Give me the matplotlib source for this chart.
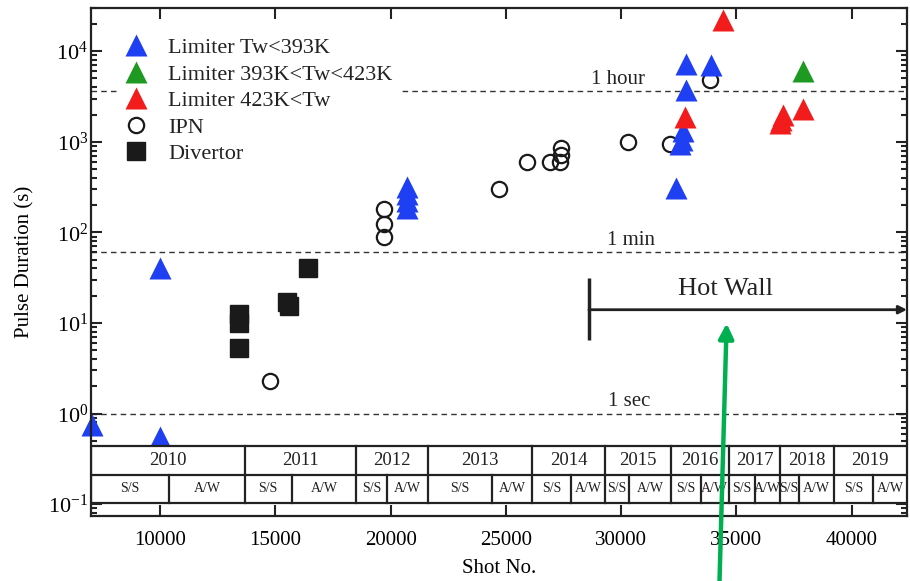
import matplotlib
matplotlib.use("Agg")
import matplotlib.pyplot as plt
from matplotlib.patches import Rectangle, FancyArrowPatch
from matplotlib.ticker import MultipleLocator, LogLocator, NullFormatter
import matplotlib.transforms as mtransforms

plt.rcParams['font.family'] = ['Liberation Serif', 'DejaVu Serif']
plt.rcParams['mathtext.fontset'] = 'custom'
plt.rcParams['mathtext.rm'] = 'Liberation Serif'
plt.rcParams['mathtext.it'] = 'Liberation Serif:italic'
plt.rcParams['text.color'] = '#222222'

# Limiter discharges, split by wall temperature
lim_cold_shot = [7050, 10000, 10000, 20700, 20700, 20700, 20700,
                 32400, 32550, 32650, 32700, 32800, 32800, 33900]
lim_cold_dur = [0.75, 40, 0.55, 320, 265, 220, 185,
                310, 950, 1050, 1300, 3700, 7200, 7000]

lim_mid_shot = [37900]
lim_mid_dur = [6100]

lim_hot_shot = [32750, 34400, 36900, 36950, 37000, 37900]
lim_hot_dur = [1900, 22000, 1600, 1750, 1950, 2300]

# Inner-pole-null and divertor discharges
ipn_shot = [14750, 19700, 19700, 19700, 24700, 25900, 26900, 27350, 27400,
            27400, 30300, 32100, 33850]
ipn_dur = [2.3, 90, 125, 180, 300, 600, 600, 600, 720, 850, 1000, 950, 4800]

div_shot = [13400, 13400, 13400, 15500, 15600, 16400]
div_dur = [12.5, 10, 5.3, 17, 15.5, 40]

# Campaign table: first shot of each year and of each A/W half
years = ['2010', '2011', '2012', '2013', '2014', '2015', '2016', '2017', '2018', '2019']
year_start = [7000, 13680, 18515, 21615, 26134, 29307, 32178, 34675, 36883, 39221]
aw_start = [10377, 15701, 19857, 24403, 27836, 30346, 33450, 35801, 37706, 40922]

ref_lines = [('1 hour', 3600, 29870), ('1 min', 60, 30420), ('1 sec', 1, 30350)]

xmin, xmax = 7000, 42400
ymin, ymax = 0.074, 30000

fig = plt.figure(figsize=(9.1, 5.81), dpi=100)
ax = fig.add_axes([0.1, 0.1119, 0.8967, 0.8744])
ax.set_yscale('log')
ax.set_xlim(xmin, xmax)
ax.set_ylim(ymin, ymax)

blue, green, red = '#1f3ff2', '#1e9a22', '#f21c1c'
tri = dict(marker='^', ms=16, ls='none', mec='none', clip_on=False)
ax.plot(ipn_shot, ipn_dur, marker='o', ms=11, mfc='none', mec='#1a1a1a',
        mew=1.6, ls='none', label='IPN', zorder=2)
ax.plot(lim_cold_shot, lim_cold_dur, color=blue, label='Limiter Tw<393K', zorder=2.1, **tri)
ax.plot(lim_mid_shot, lim_mid_dur, color=green, label='Limiter 393K<Tw<423K', zorder=2.1, **tri)
ax.plot(lim_hot_shot, lim_hot_dur, color=red, label='Limiter 423K<Tw', zorder=2.2, **tri)
ax.plot(div_shot, div_dur, marker='s', ms=13.5, color='#1a1a1a', ls='none',
        label='Divertor', zorder=2)

# reference durations
for name, val, xt in ref_lines:
    ax.axhline(val, color='#333333', lw=1, ls=(0, (4, 3)), zorder=1)
    ax.annotate(name, (xt, val), xytext=(0, 1.5), textcoords='offset points',
                ha='center', va='bottom', fontsize=15)

# hot wall period
ax.plot([28600, 28600], [6.5, 31.3], color='#222222', lw=2.5, solid_capstyle='butt')
ax.annotate('', xy=(xmax, 14), xytext=(28600, 14),
            arrowprops=dict(arrowstyle='-|>', lw=2, color='#222222',
                            shrinkA=0, shrinkB=0, mutation_scale=12))
ax.text(34530, 23.8, 'Hot Wall', ha='center', va='center', fontsize=19)

# campaign table along the bottom
trans = mtransforms.blended_transform_factory(ax.transData, ax.transAxes)
tb_bot, tb_mid, tb_top = 0.0256, 0.0807, 0.1378
ax.add_patch(Rectangle((xmin, tb_bot), xmax - xmin, tb_top - tb_bot, transform=trans,
                       facecolor='white', edgecolor='#222222', lw=1.6, zorder=3))
ax.plot([xmin, xmax], [tb_mid, tb_mid], transform=trans, color='#222222', lw=1.6, zorder=3.1)
year_end = year_start[1:] + [xmax]
for yr, x0, xa, x1 in zip(years, year_start, aw_start, year_end):
    ax.plot([x0, x0], [tb_bot, tb_top], transform=trans, color='#222222', lw=1.6, zorder=3.1)
    ax.plot([xa, xa], [tb_bot, tb_mid], transform=trans, color='#222222', lw=1.6, zorder=3.1)
    ax.text((x0 + x1) / 2, (tb_mid + tb_top) / 2, yr, transform=trans, ha='center',
            va='center', fontsize=13.5, zorder=3.2)
    ax.text((x0 + xa) / 2, (tb_bot + tb_mid) / 2, 'S/S', transform=trans, ha='center',
            va='center', fontsize=10, zorder=3.2)
    ax.text((xa + x1) / 2, (tb_bot + tb_mid) / 2, 'A/W', transform=trans, ha='center',
            va='center', fontsize=10, zorder=3.2)

ax.xaxis.set_major_locator(MultipleLocator(5000))
ax.yaxis.set_major_locator(LogLocator(base=10, numticks=12))
ax.yaxis.set_minor_locator(LogLocator(base=10, subs=range(2, 10), numticks=12))
ax.yaxis.set_minor_formatter(NullFormatter())
ax.tick_params(which='both', direction='in', top=True, right=True, width=1.5, color='#222222')
ax.tick_params(which='major', length=8)
ax.tick_params(which='minor', length=4)
ax.tick_params(axis='x', labelsize=15, pad=11)
ax.tick_params(axis='y', labelsize=16, pad=2)
for s in ax.spines.values():
    s.set_linewidth(1.6)
    s.set_color('#222222')

ax.set_xlabel('Shot No.', fontsize=15, labelpad=6)
ax.set_ylabel('Pulse Duration (s)', fontsize=15, labelpad=10)

handles, labels = ax.get_legend_handles_labels()
order = ['Limiter Tw<393K', 'Limiter 393K<Tw<423K', 'Limiter 423K<Tw', 'IPN', 'Divertor']
hmap = dict(zip(labels, handles))
leg = ax.legend([hmap[k] for k in order], order, loc='upper left',
                bbox_to_anchor=(0.033, 0.955), fontsize=16, frameon=True,
                handlelength=1.0, handletextpad=0.96, labelspacing=0.27,
                borderpad=0.3, borderaxespad=0)
leg.get_frame().set_edgecolor('none')
leg.get_frame().set_facecolor('white')
leg.get_frame().set_alpha(1)
leg.get_frame().set_boxstyle('square', pad=0)

# pointer to the hot wall arrow
fig.add_artist(FancyArrowPatch((0.7905, -0.01), (0.7985, 0.4435), transform=fig.transFigure,
                               arrowstyle='-|>', mutation_scale=22, lw=3.2,
                               color='#00b050', shrinkA=0, shrinkB=0))

fig.savefig('out.png', dpi=100)
